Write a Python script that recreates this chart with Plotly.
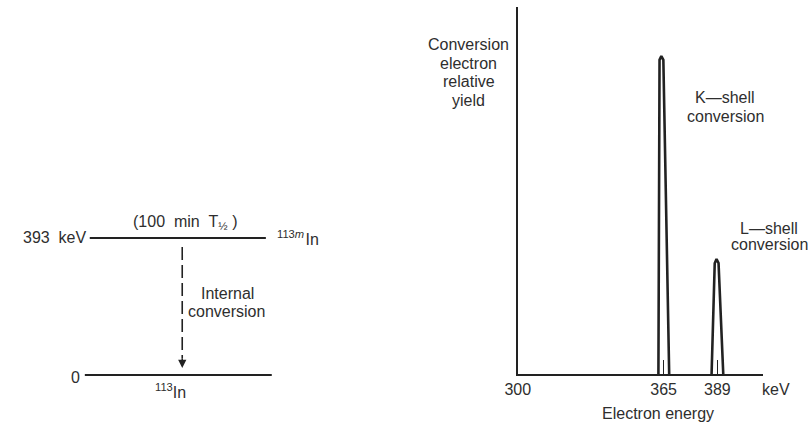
import plotly.graph_objects as go

# ---------------- data ----------------
level_energy_kev = [393, 0]
level_labels = ["393\u00a0\u00a0keV", "0"]
nuclide_labels = ["<sup>113<i>m</i></sup>\u200aIn", "<sup>113</sup>In"]
half_life_label = "(100\u00a0\u00a0min\u00a0\u00a0T<sub>½</sub>\u00a0)"

tick_energies = [300, 365, 389]
tick_labels = ["300", "365", "389"]

k_peak_energy = [362.7, 363.2, 364.0, 364.9, 367.5]
k_peak_yield = [0, 85.6, 86.6, 85.6, 0]
l_peak_energy = [386.4, 387.8, 388.6, 389.5, 391.6]
l_peak_yield = [0, 30.2, 31.3, 30.2, 0]

# ---------------- styling / layout constants ----------------
W, H = 808, 425
INK = "#222222"
TXT = "#2e2e2e"
FONT = "Liberation Sans, Arial, sans-serif"
FS = 16

TOP_PX, BOT_PX = 238, 375           # pixel rows of the two levels
KEV_PX = (BOT_PX - TOP_PX) / 393    # pixels per keV on the level diagram


def pxx(x):
    return x / W


def pxy(y):
    return 1 - y / H


fig = go.Figure()

# --- energy level diagram (x2/y2: x in layout units, y in keV) ---
level_extent = [(78, 257), (73, 263)]
for e, (x0, x1) in zip(level_energy_kev, level_extent):
    fig.add_trace(go.Scatter(x=[x0, x1], y=[e, e], mode="lines",
                             line=dict(color=INK, width=2),
                             xaxis="x2", yaxis="y2", hoverinfo="skip"))

arrow_x = 172
fig.add_trace(go.Scatter(x=[arrow_x, arrow_x],
                         y=[level_energy_kev[0] - 26, level_energy_kev[1] + 48],
                         mode="lines",
                         line=dict(color=INK, width=1.6, dash="13px,5px"),
                         xaxis="x2", yaxis="y2", hoverinfo="skip"))

# --- conversion electron spectrum ---
fig.add_trace(go.Scatter(x=k_peak_energy, y=k_peak_yield, mode="lines",
                         line=dict(color=INK, width=2.6), hoverinfo="skip"))
fig.add_trace(go.Scatter(x=l_peak_energy, y=l_peak_yield, mode="lines",
                         line=dict(color=INK, width=2.6), hoverinfo="skip"))

annotations = []

# arrow head of internal conversion
annotations.append(dict(x=arrow_x, y=level_energy_kev[1] + 20, xref="x2", yref="y2",
                        ax=arrow_x, ay=level_energy_kev[1] + 52, axref="x2", ayref="y2",
                        text="", showarrow=True, arrowhead=2, arrowsize=1.1,
                        arrowwidth=1.5, arrowcolor=INK))


def txt(text, x, y, xanchor="center", size=FS):
    annotations.append(dict(text=text, x=pxx(x), y=pxy(y), xref="paper", yref="paper",
                            xanchor=xanchor, yanchor="middle", showarrow=False,
                            font=dict(family=FONT, size=size, color=TXT)))


# left diagram texts
txt(level_labels[0], 76, 237, xanchor="right")
txt(level_labels[1], 70, 377, xanchor="right")
txt(half_life_label, 175, 222)
txt(nuclide_labels[0], 266, 238, xanchor="left")
txt(nuclide_labels[1], 160, 391)
txt("Internal", 218, 293)
txt("conversion", 217, 311)

# right chart texts
for i, line in enumerate(["Conversion", "electron", "relative", "yield"]):
    txt(line, 463, 45 + i * 18.4)
txt("K—shell", 724, 97)
txt("conversion", 724, 117)
txt("L—shell", 768, 228)
txt("conversion", 769, 245)
txt("keV", 775, 389)
txt("Electron energy", 656, 413)

fig.update_layout(
    width=W, height=H,
    margin=dict(l=0, r=0, t=0, b=0),
    paper_bgcolor="white", plot_bgcolor="white",
    showlegend=False,
    annotations=annotations,
    xaxis=dict(domain=[pxx(513), pxx(762)], range=[300, 409.2],
               showline=True, linecolor=INK, linewidth=2,
               ticks="inside", ticklen=14, tickwidth=1, tickcolor=INK,
               tickvals=tick_energies, ticktext=tick_labels,
               tickfont=dict(family=FONT, size=FS, color=TXT),
               ticklabelstandoff=0,
               showgrid=False, zeroline=False, anchor="y", fixedrange=True),
    yaxis=dict(domain=[pxy(374), pxy(7)], range=[0, 100],
               showline=True, linecolor=INK, linewidth=2,
               showticklabels=False, ticks="", showgrid=False, zeroline=False,
               anchor="x", fixedrange=True),
    xaxis2=dict(domain=[0, 0.5], range=[0, 404], visible=False, anchor="y2",
                fixedrange=True),
    yaxis2=dict(domain=[pxy(BOT_PX + 20 * KEV_PX), pxy(TOP_PX - 20 * KEV_PX)],
                range=[-20, 413], visible=False, anchor="x2", fixedrange=True),
)

fig.write_html("out.html",
               config={"displayModeBar": False},
               post_script="document.body.style.margin='0px';document.body.style.overflow='hidden';")
